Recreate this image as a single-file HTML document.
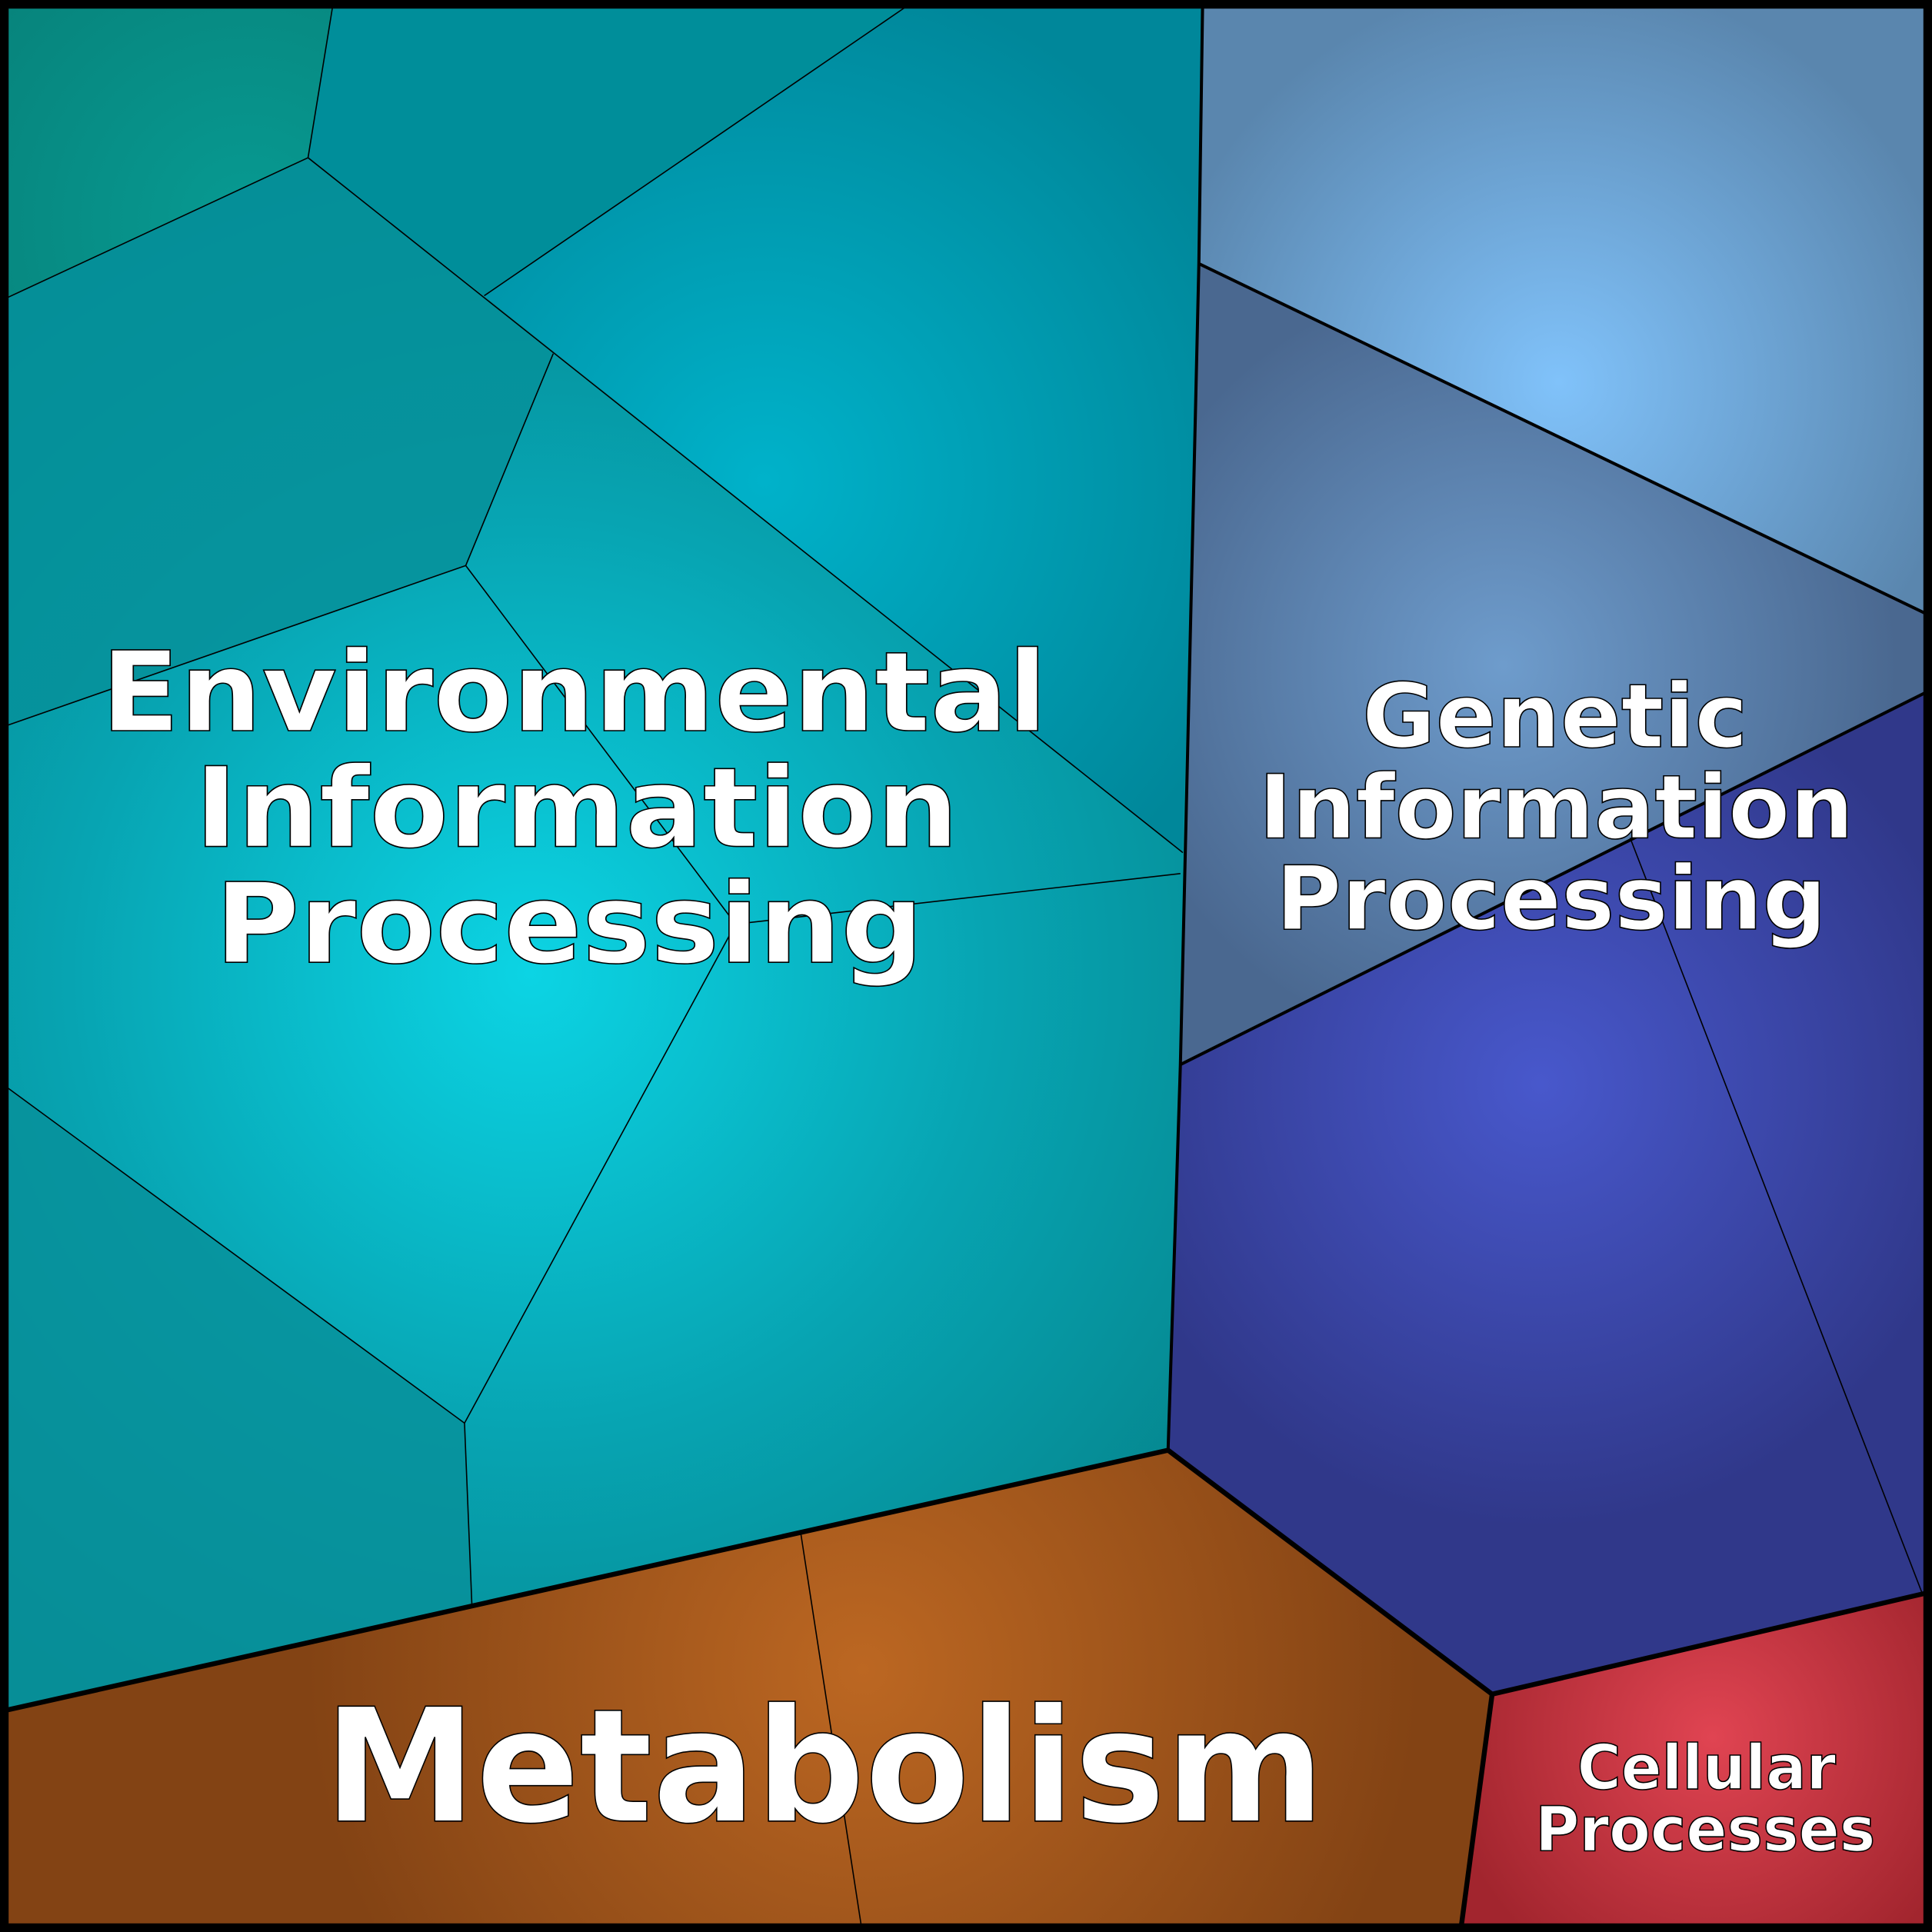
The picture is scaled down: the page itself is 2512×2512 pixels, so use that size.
<!DOCTYPE html>
<html><head><meta charset="utf-8"><style>
html,body{margin:0;padding:0;background:#000;}
svg{display:block;}
text{font-family:"DejaVu Sans","Liberation Sans",sans-serif;font-weight:bold;fill:#fff;stroke:#000;stroke-width:1;text-anchor:middle;}
</style></head><body>
<svg width="2512" height="2512" viewBox="0 0 1568 1568" xmlns="http://www.w3.org/2000/svg">
<defs>
<radialGradient id="env" gradientUnits="userSpaceOnUse" cx="430" cy="790" r="680">
<stop offset="0" stop-color="#0cd4e4"/><stop offset="0.55" stop-color="#07a4b2"/><stop offset="1" stop-color="#05868e"/></radialGradient>
<radialGradient id="envc" gradientUnits="userSpaceOnUse" cx="620" cy="390" r="420">
<stop offset="0" stop-color="#00b2ca"/><stop offset="1" stop-color="#00879a"/></radialGradient>
<radialGradient id="enva" gradientUnits="userSpaceOnUse" cx="200" cy="180" r="260">
<stop offset="0" stop-color="#079a92"/><stop offset="1" stop-color="#07847c"/></radialGradient>
<radialGradient id="g1" gradientUnits="userSpaceOnUse" cx="1265" cy="310" r="330">
<stop offset="0" stop-color="#80c2fa"/><stop offset="1" stop-color="#5a86ae"/></radialGradient>
<radialGradient id="g2" gradientUnits="userSpaceOnUse" cx="1220" cy="540" r="320">
<stop offset="0" stop-color="#6e9ccc"/><stop offset="1" stop-color="#4a6890"/></radialGradient>
<radialGradient id="g3" gradientUnits="userSpaceOnUse" cx="1250" cy="880" r="360">
<stop offset="0" stop-color="#4858cc"/><stop offset="1" stop-color="#30388a"/></radialGradient>
<radialGradient id="met" gradientUnits="userSpaceOnUse" cx="700" cy="1355" r="450">
<stop offset="0" stop-color="#bc6722"/><stop offset="1" stop-color="#834314"/></radialGradient>
<radialGradient id="cel" gradientUnits="userSpaceOnUse" cx="1390" cy="1410" r="220">
<stop offset="0" stop-color="#e04452"/><stop offset="1" stop-color="#a2252e"/></radialGradient>
</defs>
<rect width="1568" height="1568" fill="#000"/>
<polygon points="5,5 976,5 973,214 958,864 948,1177 5,1388" fill="url(#env)"/>
<polygon points="736,5 976,5 973,214 960,692 393,240" fill="url(#envc)"/>
<polygon points="5,5 270,5 250,128 5,242" fill="url(#enva)"/>
<polygon points="270,5 736,5 393,240 250,128" fill="#008e9a"/>
<polygon points="5,242 250,128 449,287 378,459 5,589" fill="#06909a" opacity="0.85"/>
<polygon points="5,882 377,1155 383,1303 5,1388" fill="#07909a" opacity="0.8"/>
<polygon points="976,5 1563,5 1563,498 973,214" fill="url(#g1)"/>
<polygon points="973,214 1563,498 1563,562 958,864" fill="url(#g2)"/>
<polygon points="958,864 1563,562 1563,1293 1211,1375 948,1177" fill="url(#g3)"/>
<polygon points="5,1388 948,1177 1211,1375 1186,1563 5,1563" fill="url(#met)"/>
<polygon points="1211,1375 1563,1293 1563,1563 1186,1563" fill="url(#cel)"/>
<g stroke="#000" stroke-width="1" fill="none">
<polyline points="270,5 250,128 5,242"/>
<line x1="250" y1="128" x2="960" y2="692"/>
<line x1="393" y1="240" x2="736" y2="5"/>
<polyline points="449,287 378,459 5,589"/>
<polyline points="378,459 597,750 958,709"/>
<polyline points="597,750 377,1155 5,882"/>
<line x1="377" y1="1155" x2="383" y2="1303"/>
<line x1="1323" y1="680" x2="1560" y2="1293"/>
<line x1="650" y1="1245" x2="699" y2="1563"/>
</g>
<g stroke="#000" stroke-width="2.5" fill="none">
<polyline points="976,5 973,214 958,864 948,1177"/>
<line x1="973" y1="214" x2="1563" y2="498"/>
<line x1="958" y1="864" x2="1563" y2="562"/>
</g>
<g stroke="#000" stroke-width="4" fill="none">
<polyline points="5,1388 948,1177 1211,1375 1563,1293"/>
<line x1="1211" y1="1375" x2="1186" y2="1563"/>
</g>
<rect x="3.5" y="3.5" width="1561" height="1561" fill="none" stroke="#000" stroke-width="7"/>
<text x="466" y="593" font-size="90" textLength="768" lengthAdjust="spacingAndGlyphs">Environmental</text>
<text x="468" y="687" font-size="90" textLength="620" lengthAdjust="spacingAndGlyphs">Information</text>
<text x="462" y="781" font-size="90" textLength="575" lengthAdjust="spacingAndGlyphs">Processing</text>
<text x="1262" y="606" font-size="72" textLength="313" lengthAdjust="spacingAndGlyphs">Genetic</text>
<text x="1263" y="680" font-size="72" textLength="483" lengthAdjust="spacingAndGlyphs">Information</text>
<text x="1259" y="754" font-size="72" textLength="447" lengthAdjust="spacingAndGlyphs">Processing</text>
<text x="669" y="1478" font-size="128" textLength="812" lengthAdjust="spacingAndGlyphs">Metabolism</text>
<text x="1385" y="1452" font-size="50" textLength="210" lengthAdjust="spacingAndGlyphs">Cellular</text>
<text x="1384" y="1502" font-size="50" textLength="276" lengthAdjust="spacingAndGlyphs">Processes</text>
</svg>
</body></html>
